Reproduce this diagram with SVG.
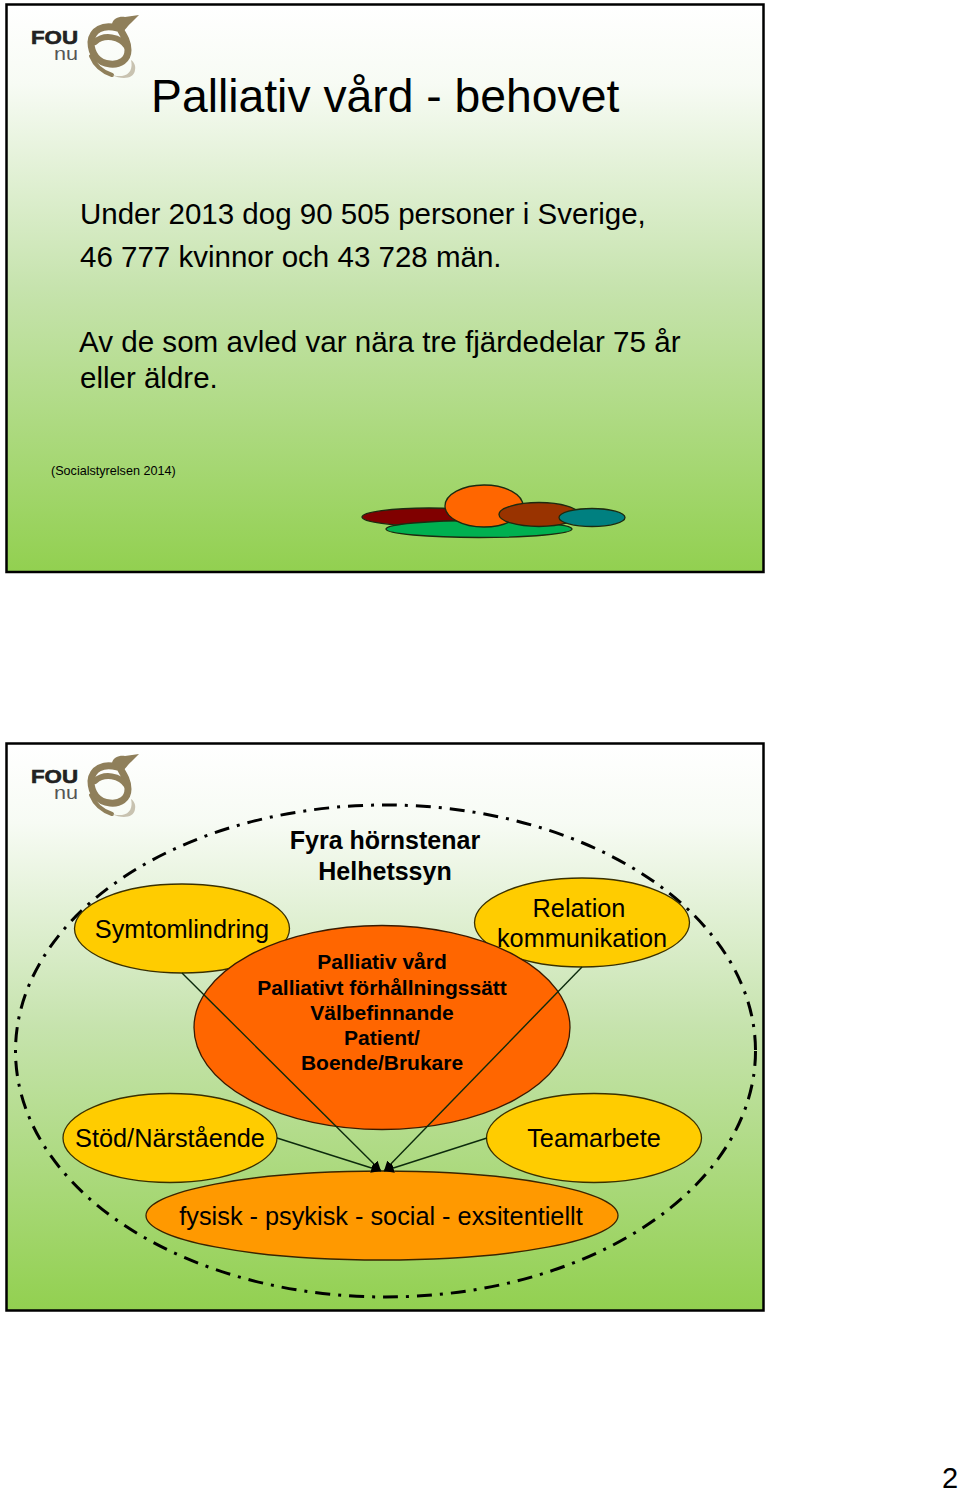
<svg xmlns="http://www.w3.org/2000/svg" width="960" height="1494" viewBox="0 0 960 1494">
<style>
text{font-family:"Liberation Sans",Arial,sans-serif;fill:#000}
.body{font-size:29.500px}
.lab{font-size:25.300px;text-anchor:middle}
.bold{font-size:25px;font-weight:bold;text-anchor:middle}
.mid{font-size:21px;font-weight:bold;text-anchor:middle}
.slide{stroke:#000;stroke-width:2.500;fill:url(#bg)}
.yel{fill:#ffcc00;stroke:#3a3000;stroke-width:1.300}
.conn{stroke:#0c2a0c;stroke-width:1.400;fill:none}
.logo{fill:none;stroke:#8f7f5a;stroke-linecap:round}
</style>
<defs>
<linearGradient id="bg" x1="0" y1="0" x2="0" y2="1">
<stop offset="0" stop-color="#ffffff"/>
<stop offset="0.14" stop-color="#f7fbf4"/>
<stop offset="0.5" stop-color="#c6e3ad"/>
<stop offset="1" stop-color="#92d050"/>
</linearGradient>
<marker id="ah" viewBox="0 0 10 10" refX="10" refY="5" markerWidth="7" markerHeight="7" orient="auto"><path d="M0 0 L10 5 L0 10 Z" fill="#000"/></marker>
<g id="logo">
<text x="31" y="44" style="font-size:19px;font-weight:bold;fill:#222;stroke:#222;stroke-width:.6" textLength="47" lengthAdjust="spacingAndGlyphs">FOU</text>
<text x="54" y="60" style="font-size:19px;fill:#555" textLength="24" lengthAdjust="spacingAndGlyphs">nu</text>
<path class="logo" stroke-width="7" d="M117 24 C122 33 128 40 128 50 C128 60 120 65 110 64 C98 63 91 54 91 42 C92 30 103 24 117 28"/>
<path class="logo" stroke-width="6" d="M95 42 C104 34 120 36 127 47"/>
<path class="logo" stroke-width="4" d="M91 56 C95 66 103 72 112 75"/>
<path d="M112 75 C122 80 134 79 135 70 C136 66 134 62 131 60 C133 68 130 75 122 76 C118 76 115 76 112 75 Z" fill="#c8c2b0"/>
<path d="M112 24 C113 18 120 16 125 17 L139 15 L131 23 C127 26 126 30 122 32 Z" fill="#8f7f5a"/>
</g>
</defs>

<g id="slide-1">
<rect class="slide" x="6.500" y="4.500" width="757" height="567.500"/>
<use href="#logo"/>
<text x="151" y="112" style="font-size:46.300px">Palliativ vård - behovet</text>
<text class="body" x="80" y="224">Under 2013 dog 90 505 personer i Sverige,</text>
<text class="body" x="80" y="267">46 777 kvinnor och 43 728 män.</text>
<text class="body" x="79" y="352" style="font-size:29.600px">Av de som avled var nära tre fjärdedelar 75 år</text>
<text class="body" x="80" y="388">eller äldre.</text>
<text x="51" y="475" style="font-size:12.600px">(Socialstyrelsen 2014)</text>
<g id="blobs" stroke="#1c2a10" stroke-width="1.300">
<ellipse cx="429" cy="517" rx="67" ry="9" fill="#800000"/>
<ellipse cx="479" cy="529" rx="93" ry="8.500" fill="#00b050"/>
<ellipse cx="484" cy="506" rx="39" ry="21" fill="#ff6600"/>
<ellipse cx="539" cy="514.500" rx="40" ry="12" fill="#993300"/>
<ellipse cx="592" cy="517.500" rx="33" ry="9" fill="#008080"/>
</g>
</g>

<g id="slide-2">
<rect class="slide" x="6.500" y="743.500" width="757" height="567"/>
<use href="#logo" y="739"/>
</g>

<g id="ring">
<ellipse cx="385.500" cy="1051" rx="370" ry="246" fill="none" stroke="#000" stroke-width="3" stroke-dasharray="15 8 3 8"/>
</g>

<g id="symtomlindring">
<ellipse class="yel" cx="182" cy="928.500" rx="107.500" ry="44.500"/>
<text class="lab" x="182" y="938">Symtomlindring</text>
</g>
<g id="relation">
<ellipse class="yel" cx="582" cy="922.500" rx="107.500" ry="44.500"/>
<text class="lab" x="579" y="917">Relation</text>
<text class="lab" x="582" y="947">kommunikation</text>
</g>
<g id="stod">
<ellipse class="yel" cx="170" cy="1138" rx="107" ry="44.500"/>
<text class="lab" x="170" y="1147">Stöd/Närstående</text>
</g>
<g id="teamarbete">
<ellipse class="yel" cx="594" cy="1138" rx="107.500" ry="44.500"/>
<text class="lab" x="594" y="1147">Teamarbete</text>
</g>
<g id="palliativ">
<ellipse cx="382" cy="1027.500" rx="188" ry="102" fill="#ff6600" stroke="#3a1a00" stroke-width="1.300"/>
<text class="mid" x="382" y="969">Palliativ vård</text>
<text class="mid" x="382" y="995">Palliativt förhållningssätt</text>
<text class="mid" x="382" y="1020">Välbefinnande</text>
<text class="mid" x="382" y="1045">Patient/</text>
<text class="mid" x="382" y="1070">Boende/Brukare</text>
</g>
<g id="fysisk">
<ellipse cx="382" cy="1215.500" rx="236" ry="44.500" fill="#ff9900" stroke="#3a2400" stroke-width="1.300"/>
<text class="lab" x="381" y="1225">fysisk - psykisk - social - exsitentiellt</text>
</g>
<g id="header">
<text class="bold" x="385" y="849">Fyra hörnstenar</text>
<text class="bold" x="385" y="880">Helhetssyn</text>
</g>

<g id="connectors">
<line class="conn" x1="182" y1="973" x2="381" y2="1171" marker-end="url(#ah)"/>
<line class="conn" x1="582" y1="967" x2="384" y2="1171" marker-end="url(#ah)"/>
<line class="conn" x1="277" y1="1138" x2="381" y2="1171" marker-end="url(#ah)"/>
<line class="conn" x1="487" y1="1138" x2="384" y2="1171" marker-end="url(#ah)"/>
</g>

<text x="942" y="1488" style="font-size:29px">2</text>
</svg>
